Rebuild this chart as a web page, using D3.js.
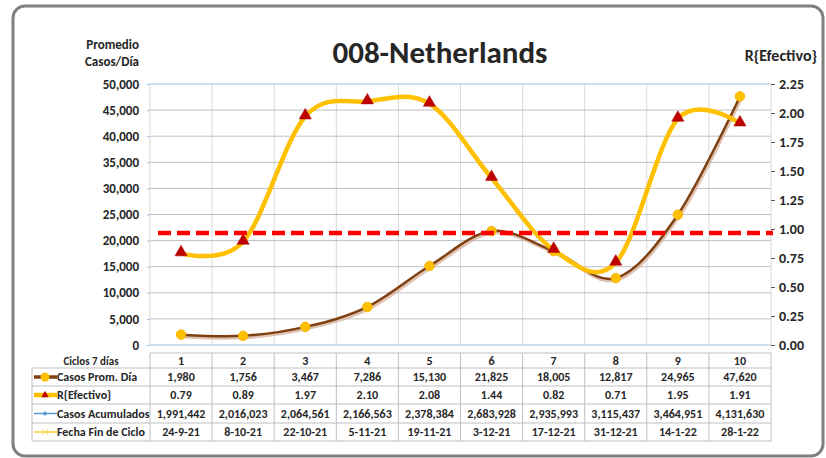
<!DOCTYPE html>
<html lang="es">
    <head>
        <meta charset="utf-8">
        <title>008-Netherlands</title>
        <script type="text/javascript" src="https://d3js.org/d3.v7.min.js"></script>
        <style type="text/css">
            body { margin: 0; background: #fff; }
            text { font-family: Calibri, Carlito, Lato, sans-serif; font-weight: bold; fill: #262626; }
        </style>
    </head>
    <body>
        <script type="text/javascript">
            var w = 826;
            var h = 458;

            // datos
            var ciclos = [1, 2, 3, 4, 5, 6, 7, 8, 9, 10];
            var casosProm = [1980, 1756, 3467, 7286, 15130, 21825, 18005, 12817, 24965, 47620];
            var rEfectivo = [0.79, 0.89, 1.97, 2.10, 2.08, 1.44, 0.82, 0.71, 1.95, 1.91];
            var casosAcum = [1991442, 2016023, 2064561, 2166563, 2378384, 2683928, 2935993, 3115437, 3464951, 4131630];
            var fechaFin = ["24-9-21", "8-10-21", "22-10-21", "5-11-21", "19-11-21", "3-12-21", "17-12-21", "31-12-21", "14-1-22", "28-1-22"];
            var umbralR = 0.965;
            var ticksIzq = [0, 5000, 10000, 15000, 20000, 25000, 30000, 35000, 40000, 45000, 50000];
            var ticksDer = [0, 0.25, 0.5, 0.75, 1, 1.25, 1.5, 1.75, 2, 2.25];

            var pLeft = 150, pRight = 771, pTop = 84, pBottom = 345;

            var svg = d3.select("body").append("svg")
                        .attr("width", w)
                        .attr("height", h);

            // marco
            svg.append("rect")
               .attr("x", 13).attr("y", 6)
               .attr("width", 810).attr("height", 450)
               .attr("rx", 12)
               .attr("fill", "#fff")
               .attr("stroke", "#7f7f7f")
               .attr("stroke-width", 3);

            var x = d3.scaleBand().domain(ciclos).range([pLeft, pRight]);
            var yL = d3.scaleLinear().domain([0, 50000]).range([pBottom, pTop]);
            var yR = d3.scaleLinear().domain([0, 2.25]).range([pBottom, pTop]);
            var fmt = d3.format(",");

            // grid vertical
            svg.selectAll("line.vgrid")
               .data(ciclos.slice(1))
               .enter().append("line")
               .attr("x1", function(d) { return x(d); })
               .attr("x2", function(d) { return x(d); })
               .attr("y1", pTop).attr("y2", pBottom)
               .attr("stroke", "#d9d9d9");

            // grid horizontal
            svg.selectAll("line.hgrid")
               .data(ticksIzq.slice(1, -1))
               .enter().append("line")
               .attr("x1", pLeft).attr("x2", pRight)
               .attr("y1", function(d) { return yL(d); })
               .attr("y2", function(d) { return yL(d); })
               .attr("stroke", "#bfbfbf");

            svg.append("line").attr("x1", pLeft).attr("x2", pRight).attr("y1", pTop).attr("y2", pTop).attr("stroke", "#9dc3e6");
            svg.append("line").attr("x1", pLeft).attr("x2", pRight).attr("y1", pBottom).attr("y2", pBottom).attr("stroke", "#9dc3e6");
            svg.append("line").attr("x1", pLeft).attr("x2", pLeft).attr("y1", pTop).attr("y2", pBottom).attr("stroke", "#d9d9d9");
            svg.append("line").attr("x1", pRight).attr("x2", pRight).attr("y1", pTop).attr("y2", pBottom).attr("stroke", "#d9d9d9");

            // eje izquierdo
            var axL = svg.append("g").attr("transform", "translate(" + pLeft + ",0)")
               .call(d3.axisLeft(yL).tickValues(ticksIzq).tickFormat(fmt).tickSize(3).tickPadding(8));
            axL.select(".domain").remove();
            axL.selectAll("line").attr("stroke", "#9dc3e6");
            axL.selectAll("text").attr("font-size", "13px").attr("fill", "#262626")
               .style("font-family", "Calibri, Carlito, Lato, sans-serif");

            // eje derecho
            var axR = svg.append("g").attr("transform", "translate(" + pRight + ",0)")
               .call(d3.axisRight(yR).tickValues(ticksDer).tickFormat(d3.format(".2f")).tickSize(4).tickPadding(4));
            axR.select(".domain").remove();
            axR.selectAll("line").attr("stroke", "#595959");
            axR.selectAll("text").attr("font-size", "14px").attr("fill", "#262626")
               .style("font-family", "Calibri, Carlito, Lato, sans-serif");

            var cx = function(d, i) { return x(ciclos[i]) + x.bandwidth() / 2; };

            // casos promedio
            var lineaCasos = d3.line()
               .x(cx)
               .y(function(d) { return yL(d); })
               .curve(d3.curveCardinal.tension(0));

            svg.append("path")
               .attr("d", lineaCasos(casosProm))
               .attr("transform", "translate(1,1.5)")
               .attr("fill", "none")
               .attr("stroke", "#d7b4a0")
               .attr("stroke-width", 4)
               .attr("opacity", 0.8);
            svg.append("path")
               .attr("d", lineaCasos(casosProm))
               .attr("fill", "none")
               .attr("stroke", "#7f3f10")
               .attr("stroke-width", 2.5);
            svg.selectAll("circle.casos")
               .data(casosProm)
               .enter().append("circle")
               .attr("cx", cx)
               .attr("cy", function(d) { return yL(d); })
               .attr("r", 4.8)
               .attr("fill", "#ffc000")
               .attr("stroke", "#f5b000")
               .attr("stroke-width", 0.8);

            // R efectivo
            var lineaR = d3.line()
               .x(cx)
               .y(function(d) { return yR(d); })
               .curve(d3.curveCardinal.tension(0));
            svg.append("path")
               .attr("d", lineaR(rEfectivo))
               .attr("fill", "none")
               .attr("stroke", "#ffc000")
               .attr("stroke-width", 4.5);
            var tri = d3.symbol().type(d3.symbolTriangle).size(64);
            svg.selectAll("path.tri")
               .data(rEfectivo)
               .enter().append("path")
               .attr("d", tri)
               .attr("transform", function(d, i) { return "translate(" + cx(d, i) + "," + (yR(d) - 1) + ")"; })
               .attr("fill", "#c00000")
               .attr("stroke", "#a00000")
               .attr("stroke-width", 0.5);

            // umbral
            svg.append("line")
               .attr("x1", 158).attr("x2", 773)
               .attr("y1", yR(umbralR)).attr("y2", yR(umbralR))
               .attr("stroke", "#ff0000")
               .attr("stroke-width", 4.5)
               .attr("stroke-dasharray", "13,6");

            // titulos
            svg.append("text").attr("x", 440).attr("y", 63).attr("text-anchor", "middle")
               .attr("font-size", "31px").attr("fill", "#000").text("008-Netherlands");
            svg.append("text").attr("x", 139).attr("y", 49).attr("text-anchor", "end")
               .attr("font-size", "13px").text("Promedio");
            svg.append("text").attr("x", 139).attr("y", 66).attr("text-anchor", "end")
               .attr("font-size", "13px").text("Casos/Día");
            svg.append("text").attr("x", 817).attr("y", 61).attr("text-anchor", "end")
               .attr("font-size", "16px").text("R{Efectivo}");

            // tabla
            var filas = [
                { nombre: "Casos Prom. Día", valores: casosProm.map(fmt) },
                { nombre: "R{Efectivo}", valores: rEfectivo.map(d3.format(".2f")) },
                { nombre: "Casos Acumulados", valores: casosAcum.map(fmt) },
                { nombre: "Fecha Fin de Ciclo", valores: fechaFin }
            ];
            var rowY = [353, 368, 386, 404, 423, 441];
            var tabLeft = 32;
            var gc = "#bfbfbf";

            svg.append("line").attr("x1", pLeft).attr("x2", pRight).attr("y1", rowY[0]).attr("y2", rowY[0]).attr("stroke", gc);
            rowY.slice(1).forEach(function(y) {
                svg.append("line").attr("x1", tabLeft).attr("x2", pRight).attr("y1", y).attr("y2", y).attr("stroke", gc);
            });
            svg.append("line").attr("x1", tabLeft).attr("x2", tabLeft).attr("y1", rowY[1]).attr("y2", rowY[5]).attr("stroke", gc);
            ciclos.forEach(function(c) {
                svg.append("line").attr("x1", x(c)).attr("x2", x(c)).attr("y1", rowY[0]).attr("y2", rowY[5]).attr("stroke", gc);
            });
            svg.append("line").attr("x1", pRight).attr("x2", pRight).attr("y1", rowY[0]).attr("y2", rowY[5]).attr("stroke", gc);

            svg.append("text").attr("x", 91).attr("y", 365).attr("text-anchor", "middle")
               .attr("font-size", "11px").text("Ciclos 7 días");
            svg.selectAll("text.ciclo")
               .data(ciclos)
               .enter().append("text")
               .attr("x", cx).attr("y", 365)
               .attr("text-anchor", "middle")
               .attr("font-size", "12px")
               .text(function(d) { return d; });

            filas.forEach(function(f, r) {
                var yb = rowY[r + 2] - 5;
                svg.append("text").attr("x", 57).attr("y", yb).attr("font-size", "12px").text(f.nombre);
                svg.selectAll("text.v" + r)
                   .data(f.valores)
                   .enter().append("text")
                   .attr("x", cx).attr("y", yb)
                   .attr("text-anchor", "middle")
                   .attr("font-size", "12px")
                   .text(function(d) { return d; });
            });

            // simbolos de leyenda
            var ym = function(r) { return (rowY[r] + rowY[r + 1]) / 2; };
            svg.append("line").attr("x1", 34).attr("x2", 57).attr("y1", ym(1)).attr("y2", ym(1)).attr("stroke", "#7f3f10").attr("stroke-width", 3.5);
            svg.append("circle").attr("cx", 45).attr("cy", ym(1)).attr("r", 4.5).attr("fill", "#ffc000");
            svg.append("line").attr("x1", 34).attr("x2", 57).attr("y1", ym(2)).attr("y2", ym(2)).attr("stroke", "#ffc000").attr("stroke-width", 4.5);
            svg.append("path").attr("d", d3.symbol().type(d3.symbolTriangle).size(24))
               .attr("transform", "translate(45," + ym(2) + ")").attr("fill", "#c00000");
            svg.append("line").attr("x1", 34).attr("x2", 57).attr("y1", ym(3)).attr("y2", ym(3)).attr("stroke", "#5b9bd5").attr("stroke-width", 1.5);
            svg.append("circle").attr("cx", 45).attr("cy", ym(3)).attr("r", 2).attr("fill", "#5b9bd5");
            svg.append("line").attr("x1", 34).attr("x2", 57).attr("y1", ym(4)).attr("y2", ym(4)).attr("stroke", "#ffc000").attr("stroke-width", 1.2);
            svg.append("path").attr("d", "M-3,-3L3,3M-3,3L3,-3")
               .attr("transform", "translate(45," + ym(4) + ")").attr("stroke", "#ffd966").attr("stroke-width", 1);
        </script>
    </body>
</html>
